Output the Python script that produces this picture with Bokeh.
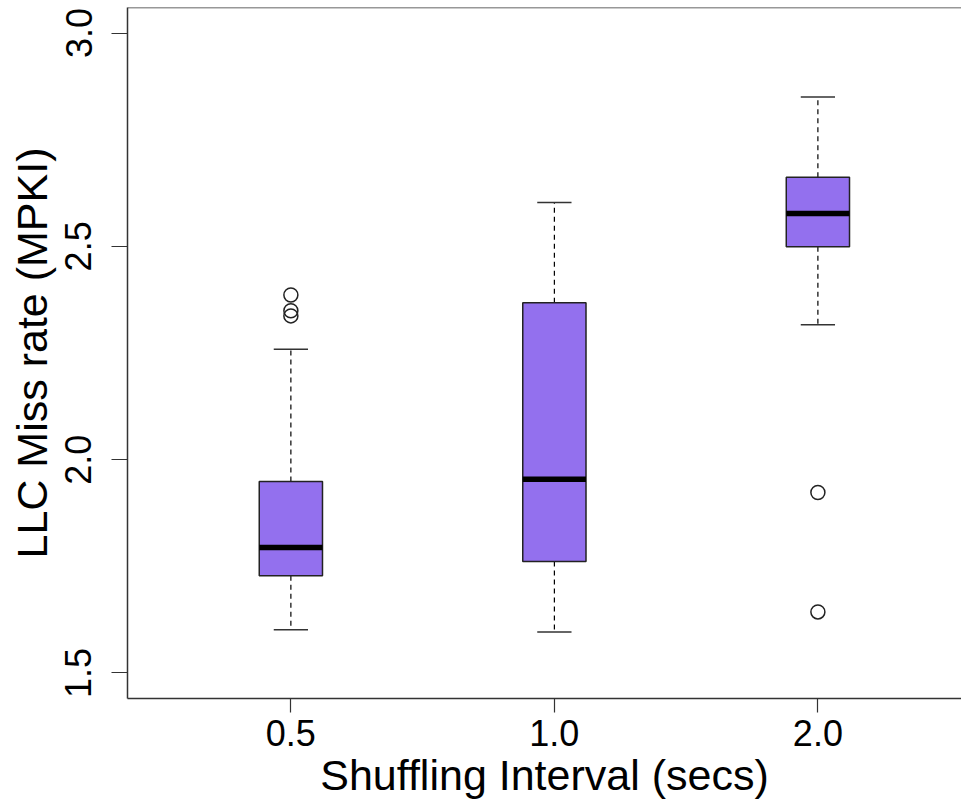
from bokeh.plotting import figure
from bokeh.models import FixedTicker, PrintfTickFormatter, Span, ColumnDataSource
from bokeh.embed import file_html
from bokeh.resources import INLINE

# ---- data ----
categories = ["0.5", "1.0", "2.0"]
lower_whisker = [1.601, 1.596, 2.316]
q1 = [1.728, 1.761, 2.499]
median = [1.794, 1.954, 2.577]
q3 = [1.949, 2.368, 2.662]
upper_whisker = [2.259, 2.603, 2.850]
outlier_group = [1, 1, 1, 3, 3]
outlier_value = [2.386, 2.349, 2.337, 1.923, 1.643]
y_ticks = [1.5, 2.0, 2.5, 3.0]

pos = list(range(1, len(categories) + 1))
box_w = 0.24
cap_w = 0.13

FONT = "Liberation Sans"

p = figure(frame_width=834, frame_height=691,
           x_range=(0.38, 3.545), y_range=(1.44, 3.06),
           output_backend="svg", toolbar_location=None,
           min_border_left=127, min_border_right=0, min_border_top=7,
           min_border_bottom=0)
p.outline_line_color = None
p.xgrid.visible = False
p.ygrid.visible = False
p.background_fill_color = "white"
p.border_fill_color = "white"

src = ColumnDataSource(dict(x=pos, lo=lower_whisker, q1=q1, med=median, q3=q3, hi=upper_whisker,
                            cl=[x - cap_w / 2 for x in pos], cr=[x + cap_w / 2 for x in pos],
                            bl=[x - box_w / 2 for x in pos], br=[x + box_w / 2 for x in pos]))

# whiskers
p.segment(x0="x", y0="q3", x1="x", y1="hi", source=src, line_color="black", line_width=1.2, line_dash="5 4")
p.segment(x0="x", y0="q1", x1="x", y1="lo", source=src, line_color="black", line_width=1.2, line_dash="5 4")
# caps
p.segment(x0="cl", y0="hi", x1="cr", y1="hi", source=src, line_color="#333333", line_width=1.5)
p.segment(x0="cl", y0="lo", x1="cr", y1="lo", source=src, line_color="#333333", line_width=1.5)
# boxes
p.quad(left="bl", right="br", bottom="q1", top="q3", source=src,
       fill_color="#9370EE", line_color="#222222", line_width=1.5)
# medians
p.segment(x0="bl", y0="med", x1="br", y1="med", source=src, line_color="black", line_width=5.5)
# outliers
p.scatter(outlier_group, outlier_value, marker="circle", size=14,
          fill_color=None, line_color="#222222", line_width=1.5)

# top border of the frame
p.add_layout(Span(location=3.06, dimension="width", line_color="#333333", line_width=1.5))

# axes
for ax in (p.xaxis[0], p.yaxis[0]):
    ax.axis_line_color = "#333333"
    ax.axis_line_width = 1.5
    ax.major_tick_line_color = "#333333"
    ax.major_tick_line_width = 1.2
    ax.major_tick_in = 0
    ax.minor_tick_line_color = None
    ax.major_label_text_font = FONT
    ax.major_label_text_font_size = "36px"
    ax.major_label_text_color = "black"
    ax.axis_label_text_font = FONT
    ax.axis_label_text_font_size = "43px"
    ax.axis_label_text_font_style = "normal"
    ax.axis_label_text_color = "black"

p.xaxis.ticker = FixedTicker(ticks=pos)
p.xaxis.major_label_overrides = {x: c for x, c in zip(pos, categories)}
p.xaxis.axis_label = "Shuffling Interval (secs)"
p.xaxis.major_tick_out = 14
p.xaxis.major_label_standoff = 7
p.xaxis.axis_label_standoff = 2

p.yaxis.ticker = FixedTicker(ticks=y_ticks)
p.yaxis.formatter = PrintfTickFormatter(format="%.1f")
p.yaxis.major_label_orientation = "vertical"
p.yaxis.axis_label = "LLC Miss rate (MPKI)"
p.yaxis.major_tick_out = 16
p.yaxis.major_label_standoff = 20
p.yaxis.axis_label_standoff = 7

open("out.html", "w").write(file_html(p, INLINE))
